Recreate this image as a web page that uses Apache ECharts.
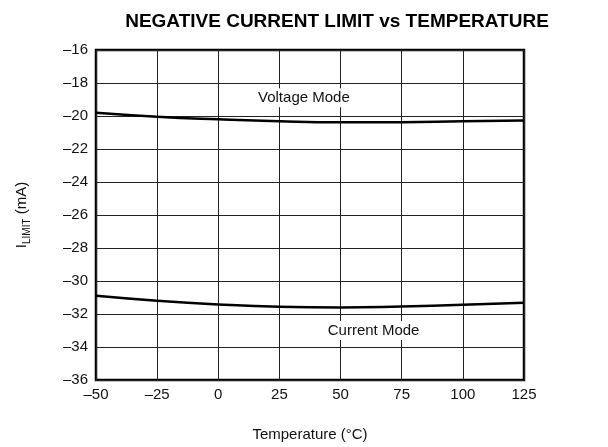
<!DOCTYPE html>
<html>
<head>
<meta charset="utf-8">
<script src="https://cdn.jsdelivr.net/npm/echarts@6/dist/echarts.min.js"></script>
<style>
  html, body { margin: 0; padding: 0; background: #fff; }
  #chart { width: 608px; height: 447px; }
</style>
</head>
<body>
<div id="chart"></div>
<script>
// Temperature points (°C) and current limit readings (mA)
const temperatures = [-50, -25, 0, 25, 50, 75, 100, 125];
const voltageMode = [-19.8, -20.04, -20.2, -20.32, -20.38, -20.38, -20.32, -20.28];
const currentMode = [-30.9, -31.2, -31.42, -31.56, -31.6, -31.54, -31.44, -31.32];

// Curve annotations: [temperature, current, text]
const voltageNote = [35, -18.9, 'Voltage Mode'];
const currentNote = [63.5, -33.0, 'Current Mode'];

const FONT = '"Liberation Sans", Arial, Helvetica, sans-serif';
const dash = v => String(v).replace('-', '\u2013');

function pairs(xs, ys) { return xs.map((x, i) => [x, ys[i]]); }

function note(n) {
  return {
    symbol: 'circle',
    symbolSize: 1,
    itemStyle: { color: 'rgba(0,0,0,0)' },
    label: {
      show: true, position: 'inside', formatter: n[2],
      fontFamily: FONT, fontSize: 15, color: '#111',
      backgroundColor: '#fff', padding: [2, 3]
    },
    data: [{ coord: [n[0], n[1]] }]
  };
}

const chart = echarts.init(document.getElementById('chart'), null, { renderer: 'canvas' });
chart.setOption({
  animation: false,
  backgroundColor: '#fff',
  title: {
    text: 'NEGATIVE CURRENT LIMIT vs TEMPERATURE',
    left: 332, top: 7, textAlign: 'center',
    textStyle: { fontFamily: FONT, fontSize: 19, fontWeight: 'bold', color: '#000' }
  },
  grid: {
    left: 96, right: 84, top: 50, bottom: 67,
    show: true, borderColor: '#000', borderWidth: 2.5, backgroundColor: 'transparent'
  },
  xAxis: {
    type: 'value', min: -50, max: 125, interval: 25,
    name: 'Temperature (°C)', nameLocation: 'middle', nameGap: 47,
    nameTextStyle: { fontFamily: FONT, fontSize: 15, color: '#111' },
    axisLine: { show: false }, axisTick: { show: false },
    axisLabel: { fontFamily: FONT, fontSize: 15, color: '#111', margin: 7, formatter: dash },
    splitLine: { show: true, lineStyle: { color: '#222', width: 1 } }
  },
  yAxis: {
    type: 'value', min: -36, max: -16, interval: 2,
    name: '{m|I}{s|LIMIT}{m| (mA)}', nameLocation: 'middle', nameGap: 64,
    nameTextStyle: {
      fontFamily: FONT, color: '#111',
      rich: {
        m: { fontFamily: FONT, fontSize: 15, color: '#111', lineHeight: 20, verticalAlign: 'middle' },
        s: { fontFamily: FONT, fontSize: 10, color: '#111', lineHeight: 20, verticalAlign: 'bottom', padding: [7, 0, 0, 0] }
      }
    },
    axisLine: { show: false }, axisTick: { show: false },
    axisLabel: { fontFamily: FONT, fontSize: 15, color: '#111', margin: 8, formatter: dash },
    splitLine: { show: true, lineStyle: { color: '#222', width: 1 } }
  },
  series: [
    {
      name: 'Voltage Mode', type: 'line', smooth: true, symbol: 'none',
      data: pairs(temperatures, voltageMode),
      lineStyle: { color: '#000', width: 2.5 },
      markPoint: note(voltageNote), z: 3
    },
    {
      name: 'Current Mode', type: 'line', smooth: true, symbol: 'none',
      data: pairs(temperatures, currentMode),
      lineStyle: { color: '#000', width: 2.5 },
      markPoint: note(currentNote), z: 3
    }
  ]
});
</script>
</body>
</html>
